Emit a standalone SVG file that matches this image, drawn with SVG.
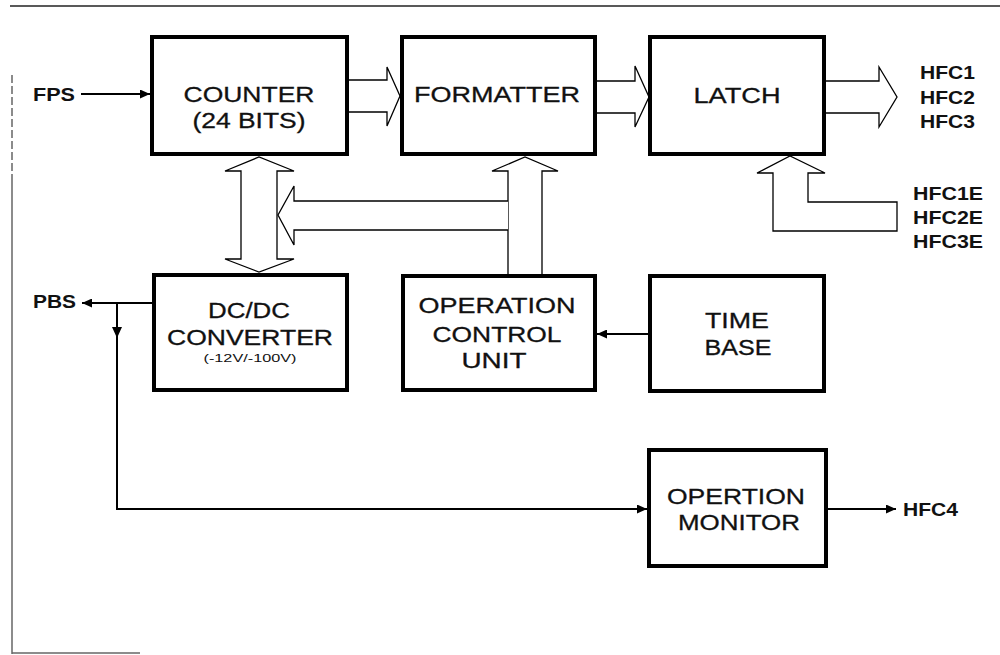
<svg xmlns="http://www.w3.org/2000/svg" width="1000" height="655" viewBox="0 0 1000 655">
<defs>
<marker id="ah" markerUnits="userSpaceOnUse" markerWidth="11" markerHeight="9" refX="10" refY="4.5" orient="auto">
<path d="M0,0 L10,4.5 L0,9 Z" fill="#000"/>
</marker>
<style>
.box{fill:#fff;stroke:#000;stroke-width:4}
.t{font-family:"Liberation Sans",Arial,sans-serif;font-size:22px;fill:#111;stroke:#111;stroke-width:0.3;text-anchor:middle}
.s{font-family:"Liberation Sans",Arial,sans-serif;font-size:10px;fill:#111;text-anchor:middle}
.lb{font-family:"Liberation Sans",Arial,sans-serif;font-size:19px;font-weight:bold;fill:#111}
.ha{fill:#fff;stroke:#000;stroke-width:1.3;stroke-linejoin:miter}
.ln{fill:none;stroke:#000;stroke-width:2}
.fr{fill:none;stroke:#666;stroke-width:1.5}
.top{fill:none;stroke:#222;stroke-width:1.5}
</style>
</defs>
<rect width="1000" height="655" fill="#fff"/>
<g id="frame">
<line class="top" x1="10" y1="6" x2="1000" y2="6"/>
<line class="fr" x1="12" y1="75" x2="12" y2="180" stroke-dasharray="8 3"/>
<line class="fr" x1="12" y1="180" x2="12" y2="654"/>
<line class="fr" x1="12" y1="653" x2="140" y2="653"/>
</g>
<g id="connectors">
<path class="ha" d="M349,80 H387 V67 L400,96 L387,126 V112 H349"/>
<path class="ha" d="M597,81 H635 V66 L649,97 L635,127 V113 H597"/>
<path class="ha" d="M826,81 H879 V67 L897,97 L879,127 V113 H826"/>
<path class="ha" d="M773,231 V173 H757 L790,156 L825,173 H808 V202 H897 V231 Z"/>
<path class="ha" d="M241,171 H225 L259,157 L294,171 H277 V259 H294 L259,272 L225,259 H241 Z"/>
<path class="ha" d="M508,274 V171 H492 L525,157 L558,171 H542 V274"/>
<path class="ha" d="M508,201 H294 V186 L278,215 L294,245 V230 H508"/>
<line class="ln" x1="81" y1="94" x2="150" y2="94" marker-end="url(#ah)"/>
<line class="ln" x1="152" y1="303" x2="82" y2="303" marker-end="url(#ah)"/>
<path class="ln" d="M117,303 V509 H647" marker-end="url(#ah)"/>
<path d="M112,327 L122,327 L117,338 Z" fill="#000"/>
<line class="ln" x1="648" y1="334" x2="597" y2="334" marker-end="url(#ah)"/>
<line class="ln" x1="828" y1="509" x2="896" y2="509" marker-end="url(#ah)"/>
</g>
<g id="counter">
<rect class="box" x="152" y="37" width="195" height="117"/>
<text class="t" x="249" y="102" textLength="131" lengthAdjust="spacingAndGlyphs">COUNTER</text>
<text class="t" x="249" y="128" textLength="113" lengthAdjust="spacingAndGlyphs">(24 BITS)</text>
</g>
<g id="formatter">
<rect class="box" x="402" y="37" width="193" height="117"/>
<text class="t" x="497" y="102" textLength="166" lengthAdjust="spacingAndGlyphs">FORMATTER</text>
</g>
<g id="latch">
<rect class="box" x="650" y="37" width="174" height="117"/>
<text class="t" x="737" y="103" textLength="87" lengthAdjust="spacingAndGlyphs">LATCH</text>
</g>
<g id="dcdc">
<rect class="box" x="154" y="275" width="193" height="115"/>
<text class="t" x="249" y="318" textLength="82" lengthAdjust="spacingAndGlyphs">DC/DC</text>
<text class="t" x="250" y="345" textLength="166" lengthAdjust="spacingAndGlyphs">CONVERTER</text>
<text class="s" x="250" y="362" textLength="93" lengthAdjust="spacingAndGlyphs">(-12V/-100V)</text>
</g>
<g id="ocu">
<rect class="box" x="403" y="276" width="192" height="114"/>
<text class="t" x="497" y="313" textLength="157" lengthAdjust="spacingAndGlyphs">OPERATION</text>
<text class="t" x="497" y="342" textLength="129" lengthAdjust="spacingAndGlyphs">CONTROL</text>
<text class="t" x="494" y="368" textLength="65" lengthAdjust="spacingAndGlyphs">UNIT</text>
</g>
<g id="timebase">
<rect class="box" x="650" y="276" width="174" height="115"/>
<text class="t" x="737" y="328" textLength="64" lengthAdjust="spacingAndGlyphs">TIME</text>
<text class="t" x="738" y="355" textLength="67" lengthAdjust="spacingAndGlyphs">BASE</text>
</g>
<g id="monitor">
<rect class="box" x="649" y="450" width="177" height="116"/>
<text class="t" x="736" y="504" textLength="138" lengthAdjust="spacingAndGlyphs">OPERTION</text>
<text class="t" x="739" y="530" textLength="122" lengthAdjust="spacingAndGlyphs">MONITOR</text>
</g>
<g id="labels">
<text class="lb" x="33" y="101" textLength="42" lengthAdjust="spacingAndGlyphs">FPS</text>
<text class="lb" x="33" y="308" textLength="43" lengthAdjust="spacingAndGlyphs">PBS</text>
<text class="lb" x="920" y="79" textLength="55" lengthAdjust="spacingAndGlyphs">HFC1</text>
<text class="lb" x="920" y="104" textLength="55" lengthAdjust="spacingAndGlyphs">HFC2</text>
<text class="lb" x="920" y="128" textLength="55" lengthAdjust="spacingAndGlyphs">HFC3</text>
<text class="lb" x="913" y="200" textLength="70" lengthAdjust="spacingAndGlyphs">HFC1E</text>
<text class="lb" x="913" y="224" textLength="70" lengthAdjust="spacingAndGlyphs">HFC2E</text>
<text class="lb" x="913" y="248" textLength="70" lengthAdjust="spacingAndGlyphs">HFC3E</text>
<text class="lb" x="903" y="516" textLength="55" lengthAdjust="spacingAndGlyphs">HFC4</text>
</g>
</svg>
